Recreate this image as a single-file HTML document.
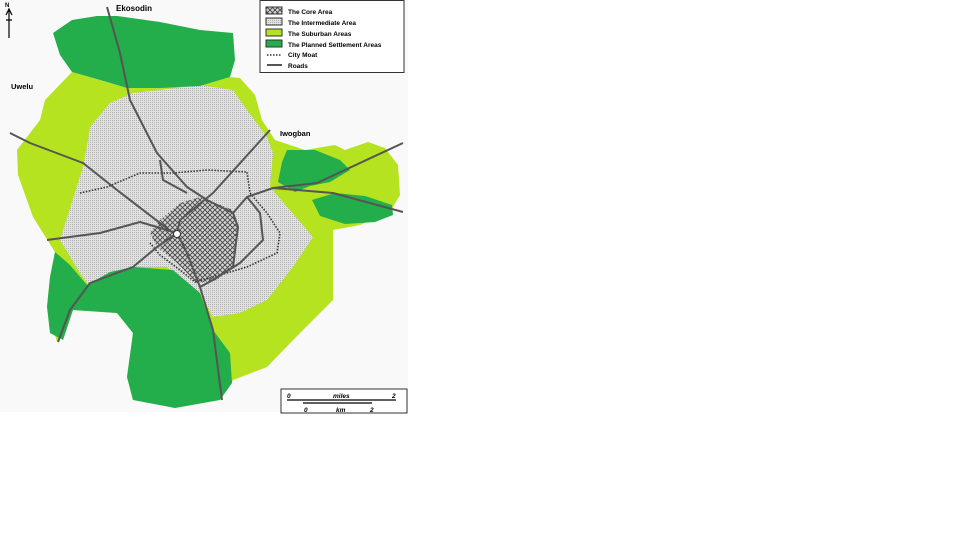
<!DOCTYPE html>
<html><head><meta charset="utf-8"><style>
html,body{margin:0;padding:0;background:#fff;width:960px;height:540px;overflow:hidden}
svg{position:absolute;left:0;top:0}
text{font-family:"Liberation Sans",sans-serif;font-weight:bold}
</style></head><body>
<svg width="960" height="540" viewBox="0 0 960 540">
<defs>
<pattern id="dots" width="2" height="2" patternUnits="userSpaceOnUse">
<rect width="2" height="2" fill="#e2e2e2"/><rect width="1" height="1" fill="#b0b0b0"/>
</pattern>
<pattern id="hatch" width="5" height="5" patternUnits="userSpaceOnUse">
<rect width="5" height="5" fill="#d4d4d4"/>
<path d="M0 0L5 5M5 0L0 5" stroke="#444" stroke-width="0.9"/>
</pattern>
</defs>
<rect x="0" y="0" width="408" height="412" fill="#f9f9f9"/>
<path fill="#b5e31f" d="M72 72 L45 100 L40 120 L17 150 L18 175 L33 217 L55 252 L50 277 L47 307 L57 342 L73 310 L117 313 L133 333 L127 377 L133 400 L220 400 L233 380 L267 367 L300 333 L333 300 L333 230 L360 225 L390 212 L400 195 L398 165 L385 148 L368 142 L345 150 L335 145 L305 150 L275 140 L262 120 L255 95 L240 78 L230 77 L200 86 L127 88 Z"/>
<path fill="url(#dots)" d="M90 127 L110 103 L133 93 L200 85 L233 90 L247 110 L267 137 L273 153 L270 187 L313 237 L293 267 L267 300 L240 313 L213 317 L200 293 L167 267 L133 267 L90 287 L80 273 L60 240 L83 167 L88 140 Z"/>
<path fill="#23ad4b" d="M53 33 L72 20 L97 16 L117 16 L160 22 L200 30 L233 33 L235 60 L230 77 L200 86 L160 88 L127 88 L100 80 L72 72 L60 55 Z"/>
<path fill="#23ad4b" d="M55 252 L70 265 L87 285 L110 272 L133 267 L173 270 L200 293 L213 330 L230 353 L232 383 L220 400 L175 408 L133 400 L127 377 L133 333 L117 313 L73 310 L63 340 L50 333 L47 307 L50 277 Z"/>
<path fill="#23ad4b" d="M287 150 L315 150 L340 160 L350 170 L330 182 L310 186 L295 192 L278 182 L282 162 Z"/>
<path fill="#23ad4b" d="M312 200 L335 193 L365 196 L392 205 L393 215 L375 222 L345 224 L320 216 Z"/>
<path fill="url(#hatch)" d="M150 233 L160 220 L180 203 L200 197 L233 210 L238 227 L233 267 L217 280 L197 283 L177 263 L157 247 Z"/>
<path fill="none" stroke="#333" stroke-width="1.6" stroke-dasharray="1.5 1.5" d="M80 193 L107 187 L140 173 L173 173 L207 170 L247 172 L250 193 L267 213 L280 233 L277 253 L247 267 L213 277 L195 282 L180 270 L160 255 L150 243"/>
<g fill="none" stroke="#555" stroke-width="2" stroke-linejoin="round">
<path d="M107 7 L120 53 L130 100 L157 153 L187 187 L207 200 L233 213"/>
<path d="M270 130 L213 193 L180 220 L177 233"/>
<path d="M403 143 L317 183 L273 188 L247 197 L233 213"/>
<path d="M403 212 L333 193 L273 188"/>
<path d="M47 240 L100 233 L140 222 L177 233"/>
<path d="M10 133 L30 143 L83 163 L117 190 L173 233"/>
<path d="M58 342 L70 310 L90 283 L133 267 L157 247 L177 233"/>
<path d="M177 233 L187 253 L200 287 L213 330 L222 400"/>
<path d="M247 197 L260 213 L263 240 L240 263 L213 280 L200 287"/>
<path d="M160 160 L163 180 L187 193"/>
<path d="M233 213 L238 227 L233 267 L213 280"/>
</g>
<circle cx="177" cy="234" r="3.5" fill="#fff" stroke="#333"/>
<text x="116" y="11" font-size="8">Ekosodin</text>
<text x="11" y="89" font-size="7.5">Uwelu</text>
<text x="280" y="136" font-size="7.5">Iwogban</text>
<text x="5" y="7" font-size="6">N</text>
<path d="M9 10 L9 38 M6 15 L9 9 L12 15 M6 20 L12 20" stroke="#000" stroke-width="1.2" fill="none"/>
<rect x="260" y="0.5" width="144" height="72" fill="#fff" stroke="#333"/>
<g font-size="6.5">
<rect x="266" y="7" width="16" height="7" fill="url(#hatch)" stroke="#333"/><text x="288" y="14">The Core Area</text>
<rect x="266" y="18" width="16" height="7" fill="url(#dots)" stroke="#333"/><text x="288" y="25">The Intermediate Area</text>
<rect x="266" y="29" width="16" height="7" fill="#b5e31f" stroke="#333"/><text x="288" y="36">The Suburban Areas</text>
<rect x="266" y="40" width="16" height="7" fill="#23ad4b" stroke="#333"/><text x="288" y="47">The Planned Settlement Areas</text>
<path d="M267 55 L282 55" stroke="#333" stroke-width="1.5" stroke-dasharray="1.5 1.5"/><text x="288" y="57">City Moat</text>
<path d="M267 65 L282 65" stroke="#555" stroke-width="2"/><text x="288" y="68">Roads</text>
</g>
<rect x="281" y="389" width="126" height="24" fill="#fff" stroke="#333"/>
<g font-size="6.5" font-style="italic">
<text x="287" y="398">0</text><text x="333" y="398">miles</text><text x="392" y="398">2</text>
<text x="304" y="412">0</text><text x="336" y="412">km</text><text x="370" y="412">2</text>
</g>
<path d="M287 400 L396 400 M303 403 L372 403" stroke="#000" stroke-width="1.3"/>
</svg>
</body></html>
